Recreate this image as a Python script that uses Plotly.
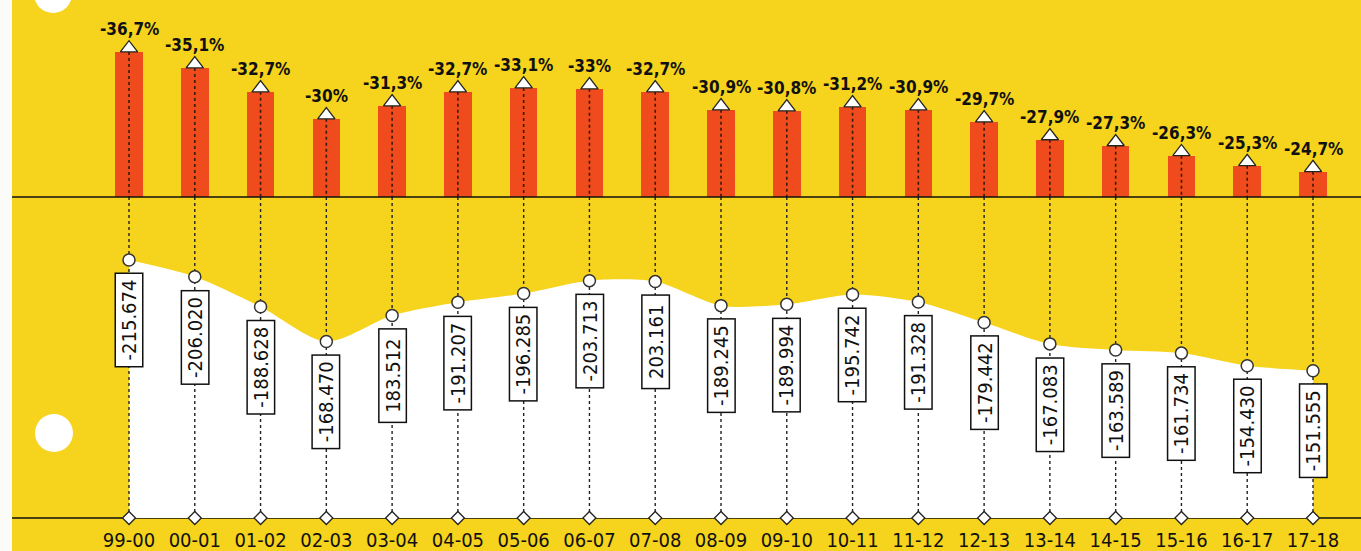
import plotly.graph_objects as go

seasons = ["99-00", "00-01", "01-02", "02-03", "03-04", "04-05", "05-06", "06-07", "07-08",
           "08-09", "09-10", "10-11", "11-12", "12-13", "13-14", "14-15", "15-16", "16-17", "17-18"]
pct_values = [36.7, 35.1, 32.7, 30.0, 31.3, 32.7, 33.1, 33.0, 32.7,
              30.9, 30.8, 31.2, 30.9, 29.7, 27.9, 27.3, 26.3, 25.3, 24.7]
pct_labels = ["-36,7%", "-35,1%", "-32,7%", "-30%", "-31,3%", "-32,7%", "-33,1%", "-33%", "-32,7%",
              "-30,9%", "-30,8%", "-31,2%", "-30,9%", "-29,7%", "-27,9%", "-27,3%", "-26,3%", "-25,3%", "-24,7%"]
counts = [215674, 206020, 188628, 168470, 183512, 191207, 196285, 203713, 203161,
          189245, 189994, 195742, 191328, 179442, 167083, 163589, 161734, 154430, 151555]
count_labels = ["-215.674", "-206.020", "-188.628", "-168.470", "183.512", "-191.207", "-196.285",
                "-203.713", "203.161", "-189.245", "-189.994", "-195.742", "-191.328", "-179.442",
                "-167.083", "-163.589", "-161.734", "-154.430", "-151.555"]

W, H = 1361, 551
YELLOW = "#F6D31C"
RED = "#EF4B1C"
DARK = "#222222"
COND = "DejaVu Sans Condensed, Liberation Sans Narrow, sans-serif"

x = list(range(len(seasons)))
top_range = [22.16, 41.91]
bot_range = [66240, 252160]
px_per_x = (1313 - 129) / (len(seasons) - 1)
x_range = [-129 / px_per_x, (len(seasons) - 1) + (W - 1313) / px_per_x]
top_dom = [1 - 197 / H, 1.0]
bot_dom = [1 - 518 / H, 1 - 197 / H]
TRI_SIZE = 15
tri_off = (TRI_SIZE / 4) / (197 / (top_range[1] - top_range[0]))

fig = go.Figure()

# bars
fig.add_trace(go.Bar(x=x, y=pct_values, width=0.42, marker=dict(color=RED, line=dict(width=0)),
                     xaxis="x", yaxis="y", hoverinfo="skip"))

# dotted vertical lines (top)
lx, ly = [], []
for i, v in zip(x, pct_values):
    lx += [i, i, None]
    ly += [v, top_range[0], None]
fig.add_trace(go.Scatter(x=lx, y=ly, mode="lines", line=dict(color="#3a1a08", width=1.6, dash="dot"),
                         xaxis="x", yaxis="y", hoverinfo="skip"))

# triangles on bars
fig.add_trace(go.Scatter(x=x, y=[v + tri_off for v in pct_values], mode="markers",
                         marker=dict(symbol="triangle-up", size=TRI_SIZE, color="white",
                                     line=dict(color=DARK, width=1.3)),
                         xaxis="x", yaxis="y", cliponaxis=False, hoverinfo="skip"))

# white area
fig.add_trace(go.Scatter(x=x, y=counts, mode="lines", line=dict(color="white", width=0, shape="spline", smoothing=0.8),
                         fill="tozeroy", fillcolor="white", xaxis="x", yaxis="y2", hoverinfo="skip"))

# dotted vertical lines (bottom)
bx, by = [], []
for i in x:
    bx += [i, i, None]
    by += [bot_range[1], bot_range[0], None]
fig.add_trace(go.Scatter(x=bx, y=by, mode="lines", line=dict(color=DARK, width=1.4, dash="dot"),
                         xaxis="x", yaxis="y2", hoverinfo="skip"))

# circle markers
fig.add_trace(go.Scatter(x=x, y=counts, mode="markers",
                         marker=dict(symbol="circle", size=12, color="white", line=dict(color="#333", width=1.5)),
                         xaxis="x", yaxis="y2", cliponaxis=False, hoverinfo="skip"))

# diamonds on baseline
fig.add_trace(go.Scatter(x=x, y=[bot_range[0]] * len(x), mode="markers",
                         marker=dict(symbol="diamond", size=10, color="white", line=dict(color=DARK, width=1.3)),
                         xaxis="x", yaxis="y2", cliponaxis=False, hoverinfo="skip"))

annotations = []
for i, v, t in zip(x, pct_values, pct_labels):
    annotations.append(dict(x=i, y=v, xref="x", yref="y", text="<b>" + t + "</b>", showarrow=False,
                            yanchor="bottom", yshift=11,
                            font=dict(family=COND, size=17, color="#111")))
for i, v, t in zip(x, counts, count_labels):
    annotations.append(dict(x=i, y=v, xref="x", yref="y2", text=t, showarrow=False,
                            yanchor="top", yshift=-13, textangle=-90, width=88, height=22,
                            bgcolor="white", bordercolor="#111", borderwidth=1.5, borderpad=2,
                            font=dict(family=COND, size=20, color="#111")))

shapes = [
    dict(type="rect", xref="paper", yref="paper", x0=0, x1=12 / W, y0=0, y1=1,
         fillcolor="#FBFBF8", line=dict(width=0), layer="above"),
    dict(type="line", xref="paper", yref="paper", x0=12 / W, x1=1, y0=top_dom[0], y1=top_dom[0],
         line=dict(color="#111", width=1.5)),
    dict(type="line", xref="paper", yref="paper", x0=12 / W, x1=1, y0=bot_dom[0], y1=bot_dom[0],
         line=dict(color="#111", width=1.5), layer="below"),
    dict(type="circle", xref="paper", yref="paper", x0=34 / W, x1=72 / W, y0=1 - 13 / H, y1=1 - (-25) / H,
         fillcolor="white", line=dict(width=0)),
    dict(type="circle", xref="paper", yref="paper", x0=35 / W, x1=73 / W, y0=1 - 452 / H, y1=1 - 414 / H,
         fillcolor="white", line=dict(width=0)),
]

fig.update_layout(
    width=W, height=H, margin=dict(l=0, r=0, t=0, b=0),
    paper_bgcolor=YELLOW, plot_bgcolor="rgba(0,0,0,0)", showlegend=False,
    xaxis=dict(range=x_range, anchor="y2", tickmode="array", tickvals=x, ticktext=seasons,
               showgrid=False, zeroline=False, showline=False, ticks="", ticklabelstandoff=8,
               tickfont=dict(family=COND, size=20, color="#111")),
    yaxis=dict(domain=top_dom, range=top_range, visible=False, anchor="x"),
    yaxis2=dict(domain=bot_dom, range=bot_range, visible=False, anchor="x"),
    annotations=annotations, shapes=shapes, bargap=0,
)

fig.write_html("out.html", config={"displayModeBar": False},
               post_script="document.body.style.margin='0';document.body.style.overflow='hidden';")
